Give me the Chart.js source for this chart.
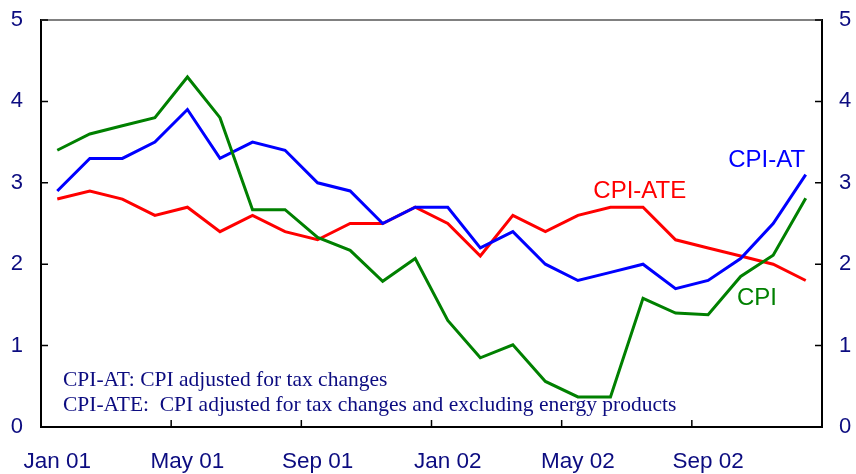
<!DOCTYPE html>
<html>
<head>
<meta charset="utf-8">
<script src="https://cdn.jsdelivr.net/npm/chart.js@4"></script>
<style>
  body { margin: 0; background: #fff; }
  #cpi-chart { display: block; }
</style>
</head>
<body>
<canvas id="cpi-chart" width="856" height="474"></canvas>
<script>
const months = ['Jan 01', 'Feb 01', 'Mar 01', 'Apr 01', 'May 01', 'Jun 01', 'Jul 01', 'Aug 01', 'Sep 01', 'Oct 01', 'Nov 01', 'Dec 01',
  'Jan 02', 'Feb 02', 'Mar 02', 'Apr 02', 'May 02', 'Jun 02', 'Jul 02', 'Aug 02', 'Sep 02', 'Oct 02', 'Nov 02', 'Dec 02'];
const cpi = [3.4, 3.6, 3.7, 3.8, 4.3, 3.8, 2.67, 2.67, 2.33, 2.17, 1.79, 2.07,
  1.31, 0.85, 1.01, 0.56, 0.37, 0.37, 1.58, 1.4, 1.38, 1.85, 2.11, 2.81];
const cpiAt = [2.9, 3.3, 3.3, 3.5, 3.9, 3.3, 3.5, 3.4, 3.0, 2.9, 2.5, 2.7,
  2.7, 2.2, 2.4, 2.0, 1.8, 1.9, 2.0, 1.7, 1.8, 2.07, 2.5, 3.1];
const cpiAte = [2.8, 2.9, 2.8, 2.6, 2.7, 2.4, 2.6, 2.4, 2.3, 2.5, 2.5, 2.7,
  2.5, 2.1, 2.6, 2.4, 2.6, 2.7, 2.7, 2.3, 2.2, 2.1, 2.0, 1.8];
const yTicks = [0, 1, 2, 3, 4, 5];
const notes = ['CPI-AT: CPI adjusted for tax changes',
  'CPI-ATE:  CPI adjusted for tax changes and excluding energy products'];

const navy = '#0c0c80';
const sans = '"Liberation Sans", Arial, sans-serif';

// inward tick marks, top frame line, series labels and footnote
const decorations = {
  id: 'decorations',
  afterDraw(chart) {
    const { ctx, chartArea: a, scales } = chart;
    const x = scales.x, y = scales.y;
    ctx.save();
    ctx.strokeStyle = '#808080';
    ctx.lineWidth = 2;
    ctx.beginPath();
    ctx.moveTo(a.left, a.top);
    ctx.lineTo(a.right, a.top);
    ctx.stroke();

    ctx.strokeStyle = '#000';
    ctx.lineWidth = 1.5;
    ctx.beginPath();
    yTicks.forEach(v => {
      const py = y.getPixelForValue(v);
      ctx.moveTo(a.left, py); ctx.lineTo(a.left + 7, py);
      ctx.moveTo(a.right, py); ctx.lineTo(a.right - 7, py);
    });
    months.forEach((m, i) => {
      if (i % 4 !== 0 || i === 0) return;
      const px = (x.getPixelForValue(i - 1) + x.getPixelForValue(i)) / 2;
      ctx.moveTo(px, a.bottom); ctx.lineTo(px, a.bottom - 7);
    });
    ctx.stroke();

    ctx.font = '24px ' + sans;
    ctx.textAlign = 'center';
    ctx.textBaseline = 'middle';
    ctx.fillStyle = '#0000ff';
    ctx.fillText('CPI-AT', x.getPixelForValue(21.8), y.getPixelForValue(3.27));
    ctx.fillStyle = '#ff0000';
    ctx.fillText('CPI-ATE', x.getPixelForValue(17.9), y.getPixelForValue(2.9));
    ctx.fillStyle = '#008000';
    ctx.fillText('CPI', x.getPixelForValue(21.5), y.getPixelForValue(1.58));

    ctx.font = '21.5px "Liberation Serif", "Times New Roman", serif';
    ctx.textAlign = 'left';
    ctx.fillStyle = navy;
    ctx.fillText(notes[0], a.left + 22, 380);
    ctx.fillText(notes[1], a.left + 22, 405);
    ctx.restore();
  }
};

const line = (data, color) => ({
  data: data,
  borderColor: color,
  borderWidth: 3,
  pointRadius: 0,
  tension: 0,
  fill: false
});

const yAxis = (position, width, padding) => ({
  position: position,
  min: 0, max: 5,
  grid: { display: false, drawTicks: false },
  border: { color: '#000', width: 2 },
  afterFit: s => { s.width = width; s.paddingTop = 0; s.paddingBottom = 0; },
  ticks: { stepSize: 1, padding: padding, color: navy, font: { family: sans, size: 22 } }
});

new Chart(document.getElementById('cpi-chart'), {
  type: 'line',
  data: {
    labels: months,
    datasets: [line(cpi, '#008000'), line(cpiAt, '#0000ff'), line(cpiAte, '#ff0000')]
  },
  options: {
    responsive: false,
    animation: false,
    layout: { padding: { top: 20, left: 0, right: 0, bottom: 0 } },
    plugins: { legend: { display: false }, tooltip: { enabled: false } },
    scales: {
      x: {
        offset: true,
        grid: { display: false, drawTicks: false },
        border: { color: '#000', width: 2 },
        afterFit: s => { s.height = 47; },
        ticks: {
          autoSkip: false,
          maxRotation: 0,
          padding: 21,
          color: navy,
          font: { family: sans, size: 22.5 },
          callback: (v, i) => i % 4 === 0 ? months[i] : ''
        }
      },
      y: yAxis('left', 41, 18),
      y2: yAxis('right', 34, 17)
    }
  },
  plugins: [decorations]
});
</script>
</body>
</html>
